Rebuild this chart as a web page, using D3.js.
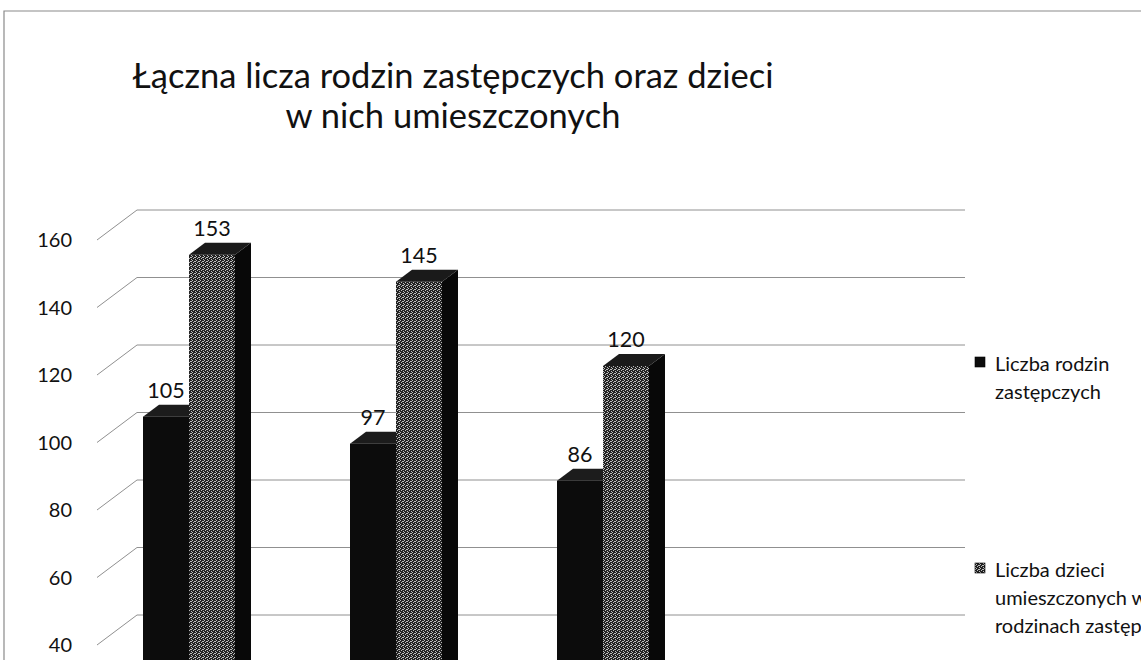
<!DOCTYPE html>
<html>
<head>
<meta charset="utf-8">
<script src="https://cdn.jsdelivr.net/npm/d3@7/dist/d3.min.js"></script>
<style>
  html, body { margin: 0; padding: 0; background: #fff; overflow: hidden; }
  svg { display: block; }
  text { font-family: Lato, "Open Sans", "DejaVu Sans", sans-serif; fill: #111; }
</style>
</head>
<body>
<svg id="chart" width="1141" height="660"></svg>
<script>
// ---- data ----
const titleLines = ["Łączna licza rodzin zastępczych oraz dzieci", "w nich umieszczonych"];
const categories = ["A", "B", "C"];
const seriesNames = ["Liczba rodzin zastępczych", "Liczba dzieci umieszczonych w rodzinach zastępczych"];
const legendLines = [["Liczba rodzin", "zastępczych"], ["Liczba dzieci", "umieszczonych w", "rodzinach zastępczych"]];
const rodziny = [105, 97, 86];
const dzieci = [153, 145, 120];
const yTicks = [40, 60, 80, 100, 120, 140, 160];

// ---- layout ----
const svg = d3.select("#chart");
const W = 1141, H = 660;
const depth = { dx: 40, dy: -30 };      // full floor depth vector
const barD0 = 0.3, barD1 = 0.7;         // bar position inside depth
const floorLeft = 97, floorRight = 925; // front-plane x extent of the walls

const y = d3.scaleLinear().domain([0, 160]).range([780, 240]);
const x0 = d3.scaleBand().domain(categories).range([73.5, 694.5])
  .paddingInner(0.5556).paddingOuter(0.2778);
const x1 = d3.scaleBand().domain(d3.range(seriesNames.length)).range([0, x0.bandwidth()]);

const rows = categories.map((c, i) => ({ c, vals: [rodziny[i], dzieci[i]] }));

// defs: speckle pattern for the second series
const defs = svg.append("defs");
const pat = defs.append("pattern").attr("id", "speck").attr("width", 4).attr("height", 4)
  .attr("patternUnits", "userSpaceOnUse");
pat.append("rect").attr("width", 4).attr("height", 4).attr("fill", "#222");
[[0,0],[2,1],[1,2],[3,3],[3,1]].forEach(([a,b]) =>
  pat.append("rect").attr("x", a).attr("y", b).attr("width", 1).attr("height", 1).attr("fill", "#bdbdbd"));

// chart border
svg.append("path").attr("d", `M4,${H} L4,11 L${W},11`)
  .attr("fill", "none").attr("stroke", "#8a8a8a").attr("stroke-width", 1.2);

// title
svg.append("g").selectAll("text").data(titleLines).join("text")
  .attr("x", 453).attr("y", (d, i) => 88 + i * 40)
  .attr("text-anchor", "middle").attr("font-size", 34.5).text(d => d);

// gridlines on back wall + diagonals on side wall
const grid = svg.append("g").attr("stroke", "#909090").attr("stroke-width", 1).attr("fill", "none");
yTicks.forEach(v => {
  grid.append("path").attr("d",
    `M${floorLeft},${y(v)} L${floorLeft + depth.dx},${y(v) + depth.dy} L${floorRight + depth.dx},${y(v) + depth.dy}`);
});

// y tick labels
svg.append("g").selectAll("text").data(yTicks).join("text")
  .attr("x", 72).attr("y", d => y(d)).attr("dy", "0.36em")
  .attr("text-anchor", "end").attr("font-size", 20).text(d => d);

// bars
const fills = [
  { front: "#0c0c0c", top: "#1c1c1c", side: "#050505" },
  { front: "url(#speck)", top: "#1a1a1a", side: "#080808" }
];
const bdx = depth.dx * (barD1 - barD0), bdy = depth.dy * (barD1 - barD0);
const ox = depth.dx * barD0, oy = depth.dy * barD0;

const bars = svg.append("g");
rows.forEach(r => {
  r.vals.forEach((v, s) => {
    const xl = x0(r.c) + x1(s) + ox;
    const w = x1.bandwidth();
    const yt = y(v) + oy, yb = y(0) + oy;
    const g = bars.append("g");
    g.append("rect").attr("x", xl).attr("y", yt).attr("width", w).attr("height", yb - yt)
      .attr("fill", fills[s].front);
    g.append("path").attr("d",
      `M${xl},${yt} L${xl + w},${yt} L${xl + w + bdx},${yt + bdy} L${xl + bdx},${yt + bdy}Z`)
      .attr("fill", fills[s].top);
    g.append("path").attr("d",
      `M${xl + w},${yt} L${xl + w + bdx},${yt + bdy} L${xl + w + bdx},${yb + bdy} L${xl + w},${yb}Z`)
      .attr("fill", fills[s].side);
    // value label
    g.append("text").attr("x", xl + w / 2).attr("y", yt + bdy - 7)
      .attr("text-anchor", "middle").attr("font-size", 21.5).text(v);
  });
});

// legend
const legendY = [371, 577];
const leg = svg.append("g");
legendLines.forEach((lines, s) => {
  leg.append("rect").attr("x", 975).attr("y", legendY[s] - 14).attr("width", 10).attr("height", 10)
    .attr("fill", s === 0 ? "#0c0c0c" : "url(#speck)").attr("stroke", "#000").attr("stroke-width", 0.6);
  leg.selectAll(null).data(lines).join("text")
    .attr("x", 995).attr("y", (d, i) => legendY[s] + i * 28)
    .attr("font-size", 20).text(d => d);
});
</script>
</body>
</html>
